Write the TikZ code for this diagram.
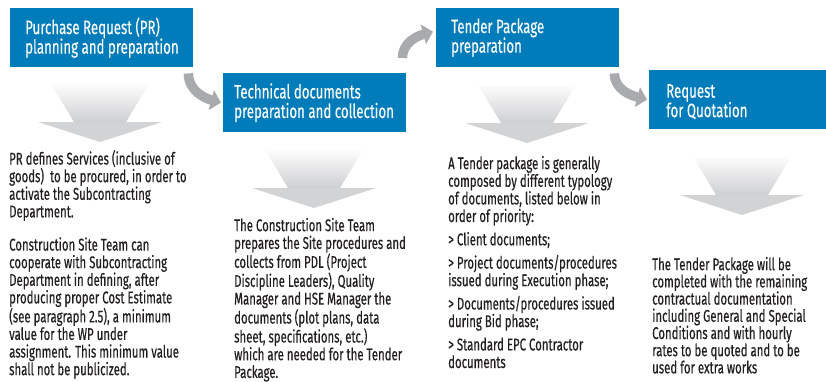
\documentclass[tikz,border=0pt]{standalone}
\usepackage{fontspec}
\setmainfont{Fira Sans}
\newfontfamily\titlefont[FakeStretch=0.68,FakeBold=0.15]{Fira Sans}
\newfontfamily\bodyfont[FakeStretch=0.67,FakeBold=0.45]{Fira Sans}
\usetikzlibrary{arrows.meta}
\definecolor{boxblue}{RGB}{0,124,186}
\definecolor{curvegray}{RGB}{168,170,173}
\definecolor{txtgray}{RGB}{35,31,32}
\definecolor{headgray}{RGB}{210,211,213}
\definecolor{bodygray}{RGB}{206,207,209}
\tikzset{
  bluebox/.style={fill=boxblue, draw=none, anchor=north west, inner sep=0pt, minimum height=59pt},
  titletext/.style={anchor=west, inner sep=0pt, align=left, text=white, font=\titlefont\fontsize{19.5}{19.5}\selectfont},
  bodytext/.style={anchor=north west, inner sep=0pt, align=left, text=txtgray, font=\bodyfont\fontsize{17}{17.6}\selectfont},
  flow/.style={draw=curvegray, line width=9.5pt, -{Triangle[width=20pt,length=10pt]}},
}
\newcommand\fstrut{\rule{0pt}{14pt}}
\newcommand\dnarrow[2]{%
  \shade[top color=white, bottom color=bodygray] ({#1-50},#2) -- ({#1+50},#2) -- ({#1+26},{#2+40}) -- ({#1-26},{#2+40}) -- cycle;
  \fill[headgray] ({#1-62},{#2+40}) -- ({#1+62},{#2+40}) -- (#1,{#2+60}) -- cycle;
}
\begin{document}
\begin{tikzpicture}[x=1pt,y=-1pt]
\useasboundingbox (0,0) rectangle (826,381);

% blue title boxes
\node[bluebox, minimum width=183pt] (b1) at (10,8) {};
\node[bluebox, minimum width=183pt] (b2) at (223,73) {};
\node[bluebox, minimum width=183pt] (b3) at (436,8) {};
\node[bluebox, minimum width=177pt] (b4) at (649,70) {};

\node[titletext] (t1) at ([xshift=15pt]b1.west) {Purchase Request (PR)\\planning and preparation};
\node[titletext] (t2) at ([xshift=11pt]b2.west) {Technical documents\\preparation and collection};
\node[titletext] (t3) at ([xshift=15pt]b3.west) {Tender Package\\preparation};
\node[titletext] (t4) at ([xshift=17pt,yshift=-2pt]b4.west) {Request\\for Quotation};

% gray down arrows
\dnarrow{100}{82}
\dnarrow{314}{148}
\dnarrow{527}{83}
\dnarrow{742}{155}

% curved connectors
\draw[flow] ([xshift=-5pt,yshift=-6pt]b1.south east) to[out=-90,in=165] ([xshift=-2pt]b2.west);
\draw[flow] ([xshift=-4pt,yshift=15pt]b2.north east) to[out=90,in=195] ([xshift=-3pt,yshift=6pt]b3.west);
\draw[flow] ([xshift=-5pt,yshift=-6pt]b3.south east) to[out=-90,in=165] ([xshift=-2pt]b4.west);

% body texts
\node[bodytext] (d1) at (9,150) {\fstrut PR defines Services (inclusive of\\
goods)~ to be procured, in order to\\
activate the Subcontracting\\
Department.\\[15.6pt]
Construction Site Team can\\
cooperate with Subcontracting\\
Department in defining, after\\
producing proper Cost Estimate\\
(see paragraph 2.5), a minimum\\
value for the WP under\\
assignment. This minimum value\\
shall not be publicized.};

\node[bodytext, font=\bodyfont\fontsize{17}{17.7}\selectfont] (d2) at (234,217) {\fstrut The Construction Site Team\\
prepares the Site procedures and\\
collects from PDL (Project\\
Discipline Leaders), Quality\\
Manager and HSE Manager the\\
documents (plot plans, data\\
sheet, specifications, etc.)\\
which are needed for the Tender\\
Package.};

\node[bodytext] (d3) at (448,155) {\fstrut A Tender package is generally\\
composed by different typology\\
of documents, listed below in\\
order of priority:\\[5.7pt]
> Client documents;\\[5.7pt]
> Project documents/procedures\\
issued during Execution phase;\\[5.7pt]
> Documents/procedures issued\\
during Bid phase;\\[5.7pt]
> Standard EPC Contractor\\
documents};

\node[bodytext, font=\bodyfont\fontsize{17}{17.2}\selectfont] (d4) at (652,256) {\fstrut The Tender Package will be\\
completed with the remaining\\
contractual documentation\\
including General and Special\\
Conditions and with hourly\\
rates to be quoted and to be\\
used for extra works};
\end{tikzpicture}
\end{document}
